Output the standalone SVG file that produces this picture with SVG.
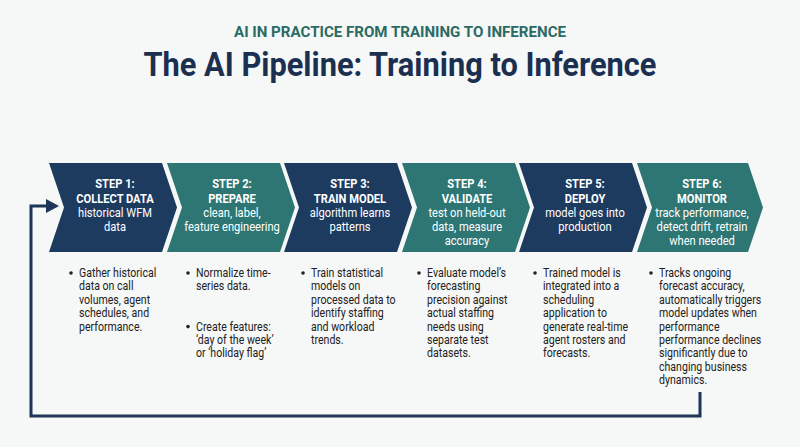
<svg xmlns="http://www.w3.org/2000/svg" width="800" height="447" viewBox="0 0 800 447">
<defs>
<style>
.bg{fill:#f6f7f7}
.navy{fill:#1d3a5f}
.teal{fill:#2d7674}
.sub{font-family:Roboto,"Liberation Sans",sans-serif;font-weight:700;font-size:14.5px;fill:#2a6b63}
.title{font-family:Roboto,"Liberation Sans",sans-serif;font-weight:700;font-size:33px;fill:#1b2f50}
.ch{font-family:Roboto,"Liberation Sans",sans-serif;font-size:12.8px;fill:#ffffff;text-anchor:middle}
.chb{font-weight:700}
.body{font-family:Roboto,"Liberation Sans",sans-serif;font-size:12.6px;fill:#222222}
.dot{fill:#222222}
.loop{fill:none;stroke:#1d3557;stroke-width:3}
.head{fill:#1d3557}
</style>
</defs>
<rect class="bg" x="0" y="0" width="800" height="447"/>
<text class="sub" x="400" y="37" text-anchor="middle" textLength="332" lengthAdjust="spacingAndGlyphs">AI IN PRACTICE FROM TRAINING TO INFERENCE</text>
<text class="title" x="400" y="76" text-anchor="middle" textLength="513" lengthAdjust="spacingAndGlyphs">The AI Pipeline: Training to Inference</text>

<g id="connectors">
<path class="loop" d="M700,392 L700,416 L31,416 L31,206 L47,206"/>
<polygon class="head" points="46,199 59,206 46,213"/>
</g>

<g id="step1">
<path class="navy" d="M49,163 L162,163 L177,207.5 L162,252 L49,252 L64,207.5 Z"/>
<g class="ch" transform="translate(115,0) scale(0.87,1)">
<text class="chb" x="0" y="188">STEP 1:</text>
<text class="chb" x="0" y="203">COLLECT DATA</text>
<text x="0" y="217">historical WFM</text>
<text x="0" y="231">data</text>
</g>
<circle class="dot" cx="71" cy="273" r="1.8"/>
<g class="body" transform="translate(79,0) scale(0.84,1)">
<text x="0" y="277">Gather historical</text>
<text x="0" y="290.4">data on call</text>
<text x="0" y="303.8">volumes, agent</text>
<text x="0" y="317.2">schedules, and</text>
<text x="0" y="330.6">performance.</text>
</g>
</g>

<g id="step2">
<path class="teal" d="M167,163 L280,163 L295,207.5 L280,252 L167,252 L182,207.5 Z"/>
<g class="ch" transform="translate(232,0) scale(0.87,1)">
<text class="chb" x="0" y="188">STEP 2:</text>
<text class="chb" x="0" y="203">PREPARE</text>
<text x="0" y="217">clean, label,</text>
<text x="0" y="231">feature engineering</text>
</g>
<circle class="dot" cx="188" cy="273" r="1.8"/>
<circle class="dot" cx="188" cy="326.6" r="1.8"/>
<g class="body" transform="translate(196,0) scale(0.84,1)">
<text x="0" y="277">Normalize time-</text>
<text x="0" y="290.4">series data.</text>
<text x="0" y="330.6">Create features:</text>
<text x="0" y="344">‘day of the week’</text>
<text x="0" y="357.4">or ‘holiday flag’</text>
</g>
</g>

<g id="step3">
<path class="navy" d="M284,163 L397,163 L412,207.5 L397,252 L284,252 L299,207.5 Z"/>
<g class="ch" transform="translate(350,0) scale(0.87,1)">
<text class="chb" x="0" y="188">STEP 3:</text>
<text class="chb" x="0" y="203">TRAIN MODEL</text>
<text x="0" y="217">algorithm learns</text>
<text x="0" y="231">patterns</text>
</g>
<circle class="dot" cx="303" cy="273" r="1.8"/>
<g class="body" transform="translate(311,0) scale(0.84,1)">
<text x="0" y="277">Train statistical</text>
<text x="0" y="290.4">models on</text>
<text x="0" y="303.8">processed data to</text>
<text x="0" y="317.2">identify staffing</text>
<text x="0" y="330.6">and workload</text>
<text x="0" y="344">trends.</text>
</g>
</g>

<g id="step4">
<path class="teal" d="M402,163 L515,163 L530,207.5 L515,252 L402,252 L417,207.5 Z"/>
<g class="ch" transform="translate(467,0) scale(0.87,1)">
<text class="chb" x="0" y="188">STEP 4:</text>
<text class="chb" x="0" y="203">VALIDATE</text>
<text x="0" y="217">test on held-out</text>
<text x="0" y="231">data, measure</text>
<text x="0" y="245">accuracy</text>
</g>
<circle class="dot" cx="419" cy="273" r="1.8"/>
<g class="body" transform="translate(427,0) scale(0.84,1)">
<text x="0" y="277">Evaluate model’s</text>
<text x="0" y="290.4">forecasting</text>
<text x="0" y="303.8">precision against</text>
<text x="0" y="317.2">actual staffing</text>
<text x="0" y="330.6">needs using</text>
<text x="0" y="344">separate test</text>
<text x="0" y="357.4">datasets.</text>
</g>
</g>

<g id="step5">
<path class="navy" d="M519,163 L632,163 L647,207.5 L632,252 L519,252 L534,207.5 Z"/>
<g class="ch" transform="translate(585,0) scale(0.87,1)">
<text class="chb" x="0" y="188">STEP 5:</text>
<text class="chb" x="0" y="203">DEPLOY</text>
<text x="0" y="217">model goes into</text>
<text x="0" y="231">production</text>
</g>
<circle class="dot" cx="535" cy="273" r="1.8"/>
<g class="body" transform="translate(543,0) scale(0.84,1)">
<text x="0" y="277">Trained model is</text>
<text x="0" y="290.4">integrated into a</text>
<text x="0" y="303.8">scheduling</text>
<text x="0" y="317.2">application to</text>
<text x="0" y="330.6">generate real-time</text>
<text x="0" y="344">agent rosters and</text>
<text x="0" y="357.4">forecasts.</text>
</g>
</g>

<g id="step6">
<path class="teal" d="M637,163 L748,163 L763,207.5 L748,252 L637,252 L652,207.5 Z"/>
<g class="ch" transform="translate(702,0) scale(0.87,1)">
<text class="chb" x="0" y="188">STEP 6:</text>
<text class="chb" x="0" y="203">MONITOR</text>
<text x="0" y="217">track performance,</text>
<text x="0" y="231">detect drift, retrain</text>
<text x="0" y="245">when needed</text>
</g>
<circle class="dot" cx="651" cy="273" r="1.8"/>
<g class="body" transform="translate(659,0) scale(0.84,1)">
<text x="0" y="277">Tracks ongoing</text>
<text x="0" y="290.4">forecast accuracy,</text>
<text x="0" y="303.8">automatically triggers</text>
<text x="0" y="317.2">model updates when</text>
<text x="0" y="330.6">performance</text>
<text x="0" y="344">performance declines</text>
<text x="0" y="357.4">significantly due to</text>
<text x="0" y="370.8">changing business</text>
<text x="0" y="384.2">dynamics.</text>
</g>
</g>
</svg>
